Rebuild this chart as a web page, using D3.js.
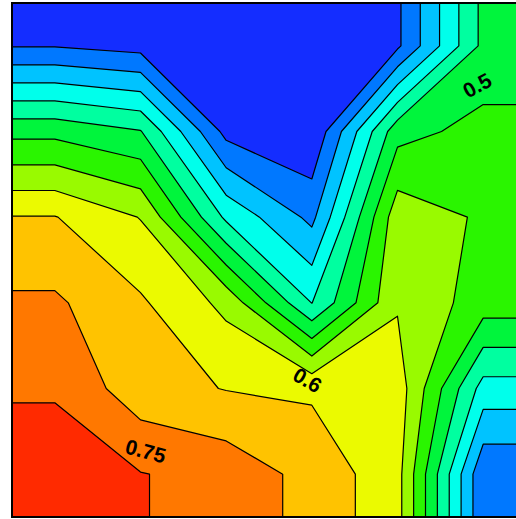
<!DOCTYPE html>
<html>
<head>
<meta charset="utf-8">
<script src="https://cdn.jsdelivr.net/npm/d3@7"></script>
<style>
  html, body { margin: 0; padding: 0; background: #ffffff; overflow: hidden; }
  svg { display: block; }
</style>
</head>
<body>
<div id="chart"></div>
<script>
// Grid of sampled values (rows from top to bottom, columns from left to right)
const row0 = [0.247, 0.2315, 0.200, 0.170, 0.241, 0.463];
const row1 = [0.485, 0.453, 0.234, 0.204, 0.482, 0.517];
const row2 = [0.652, 0.598, 0.390, 0.287, 0.581, 0.543];
const row3 = [0.708, 0.657, 0.587, 0.399, 0.595, 0.526];
const row4 = [0.745, 0.670, 0.648, 0.642, 0.627, 0.380];
const row5 = [0.775, 0.752, 0.733, 0.683, 0.618, 0.257];
const gridRows = [row0, row1, row2, row3, row4, row5];

// Contour levels and the fill of each band (band i lies above levels[i-1])
const levels = [0.25, 0.30, 0.35, 0.40, 0.45, 0.50, 0.55, 0.60, 0.65, 0.70, 0.75];
const bandColors = [
  "#142dff", "#0078ff", "#00c3ff", "#00ffeb", "#00ffa0", "#00f53c",
  "#2af500", "#99fa00", "#ebfa00", "#ffc300", "#ff7800", "#ff2a00"
];

// Inline contour labels
const labelValues = ["0.5", "0.6", "0.75"];

// Label placement in grid units and rotation (layout only)
const labelLayout = [
  { gx: 5.43, gy: 0.96, angle: -29 },
  { gx: 3.45, gy: 4.40, angle: 30 },
  { gx: 1.56, gy: 5.23, angle: 15 }
];

const W = 516, H = 519;
const nx = row0.length, ny = gridRows.length;
const plot = { left: 12, top: 3, size: 514 };

const svg = d3.select("#chart").append("svg")
  .attr("width", W).attr("height", H);

// The grid is padded by one repeated node on every side so the half cell
// between the outer nodes and the frame holds a constant value.
const padded = [];
for (let j = -1; j <= ny; j++) {
  const r = gridRows[Math.max(0, Math.min(ny - 1, j))];
  for (let i = -1; i <= nx; i++) padded.push(r[Math.max(0, Math.min(nx - 1, i))]);
}
const px = nx + 2, py = ny + 2;

// grid units of the padded field: the frame spans [1, n + 1]
const x = d3.scaleLinear().domain([1, nx + 1]).range([plot.left, plot.left + plot.size]);
const y = d3.scaleLinear().domain([1, ny + 1]).range([plot.top, plot.top + plot.size]);

const contours = d3.contours().size([px, py]).thresholds(levels)(padded);

const path = d3.geoPath(d3.geoTransform({
  point: function (a, b) { this.stream.point(x(a), y(b)); }
}));

svg.append("clipPath").attr("id", "plotClip")
  .append("rect")
  .attr("x", x(1)).attr("y", y(1))
  .attr("width", x(nx + 1) - x(1)).attr("height", y(ny + 1) - y(1));

const g = svg.append("g").attr("clip-path", "url(#plotClip)");

// lowest band underneath everything
g.append("rect")
  .attr("x", x(1)).attr("y", y(1))
  .attr("width", x(nx + 1) - x(1)).attr("height", y(ny + 1) - y(1))
  .attr("fill", bandColors[0]);

g.selectAll("path.band")
  .data(contours)
  .join("path")
  .attr("class", "band")
  .attr("d", path)
  .attr("fill", (d, i) => bandColors[i + 1])
  .attr("stroke", "none");

g.selectAll("path.iso")
  .data(contours)
  .join("path")
  .attr("class", "iso")
  .attr("d", path)
  .attr("fill", "none")
  .attr("stroke", "#000")
  .attr("stroke-width", 1.2)
  .attr("stroke-linejoin", "round");

// frame
svg.append("rect")
  .attr("x", x(1)).attr("y", y(1))
  .attr("width", x(nx + 1) - x(1)).attr("height", y(ny + 1) - y(1))
  .attr("fill", "none")
  .attr("stroke", "#000")
  .attr("stroke-width", 2);

// contour labels (positions given in grid units of the unpadded field)
svg.selectAll("text.clabel")
  .data(labelValues)
  .join("text")
  .attr("class", "clabel")
  .attr("transform", (d, i) => {
    const p = labelLayout[i];
    return `translate(${x(p.gx + 1)},${y(p.gy + 1)}) rotate(${p.angle})`;
  })
  .attr("text-anchor", "middle")
  .attr("dominant-baseline", "central")
  .attr("font-family", "'Liberation Sans', Arial, sans-serif")
  .attr("font-weight", "bold")
  .attr("font-size", 21)
  .attr("fill", "#000")
  .text(d => d);
</script>
</body>
</html>
